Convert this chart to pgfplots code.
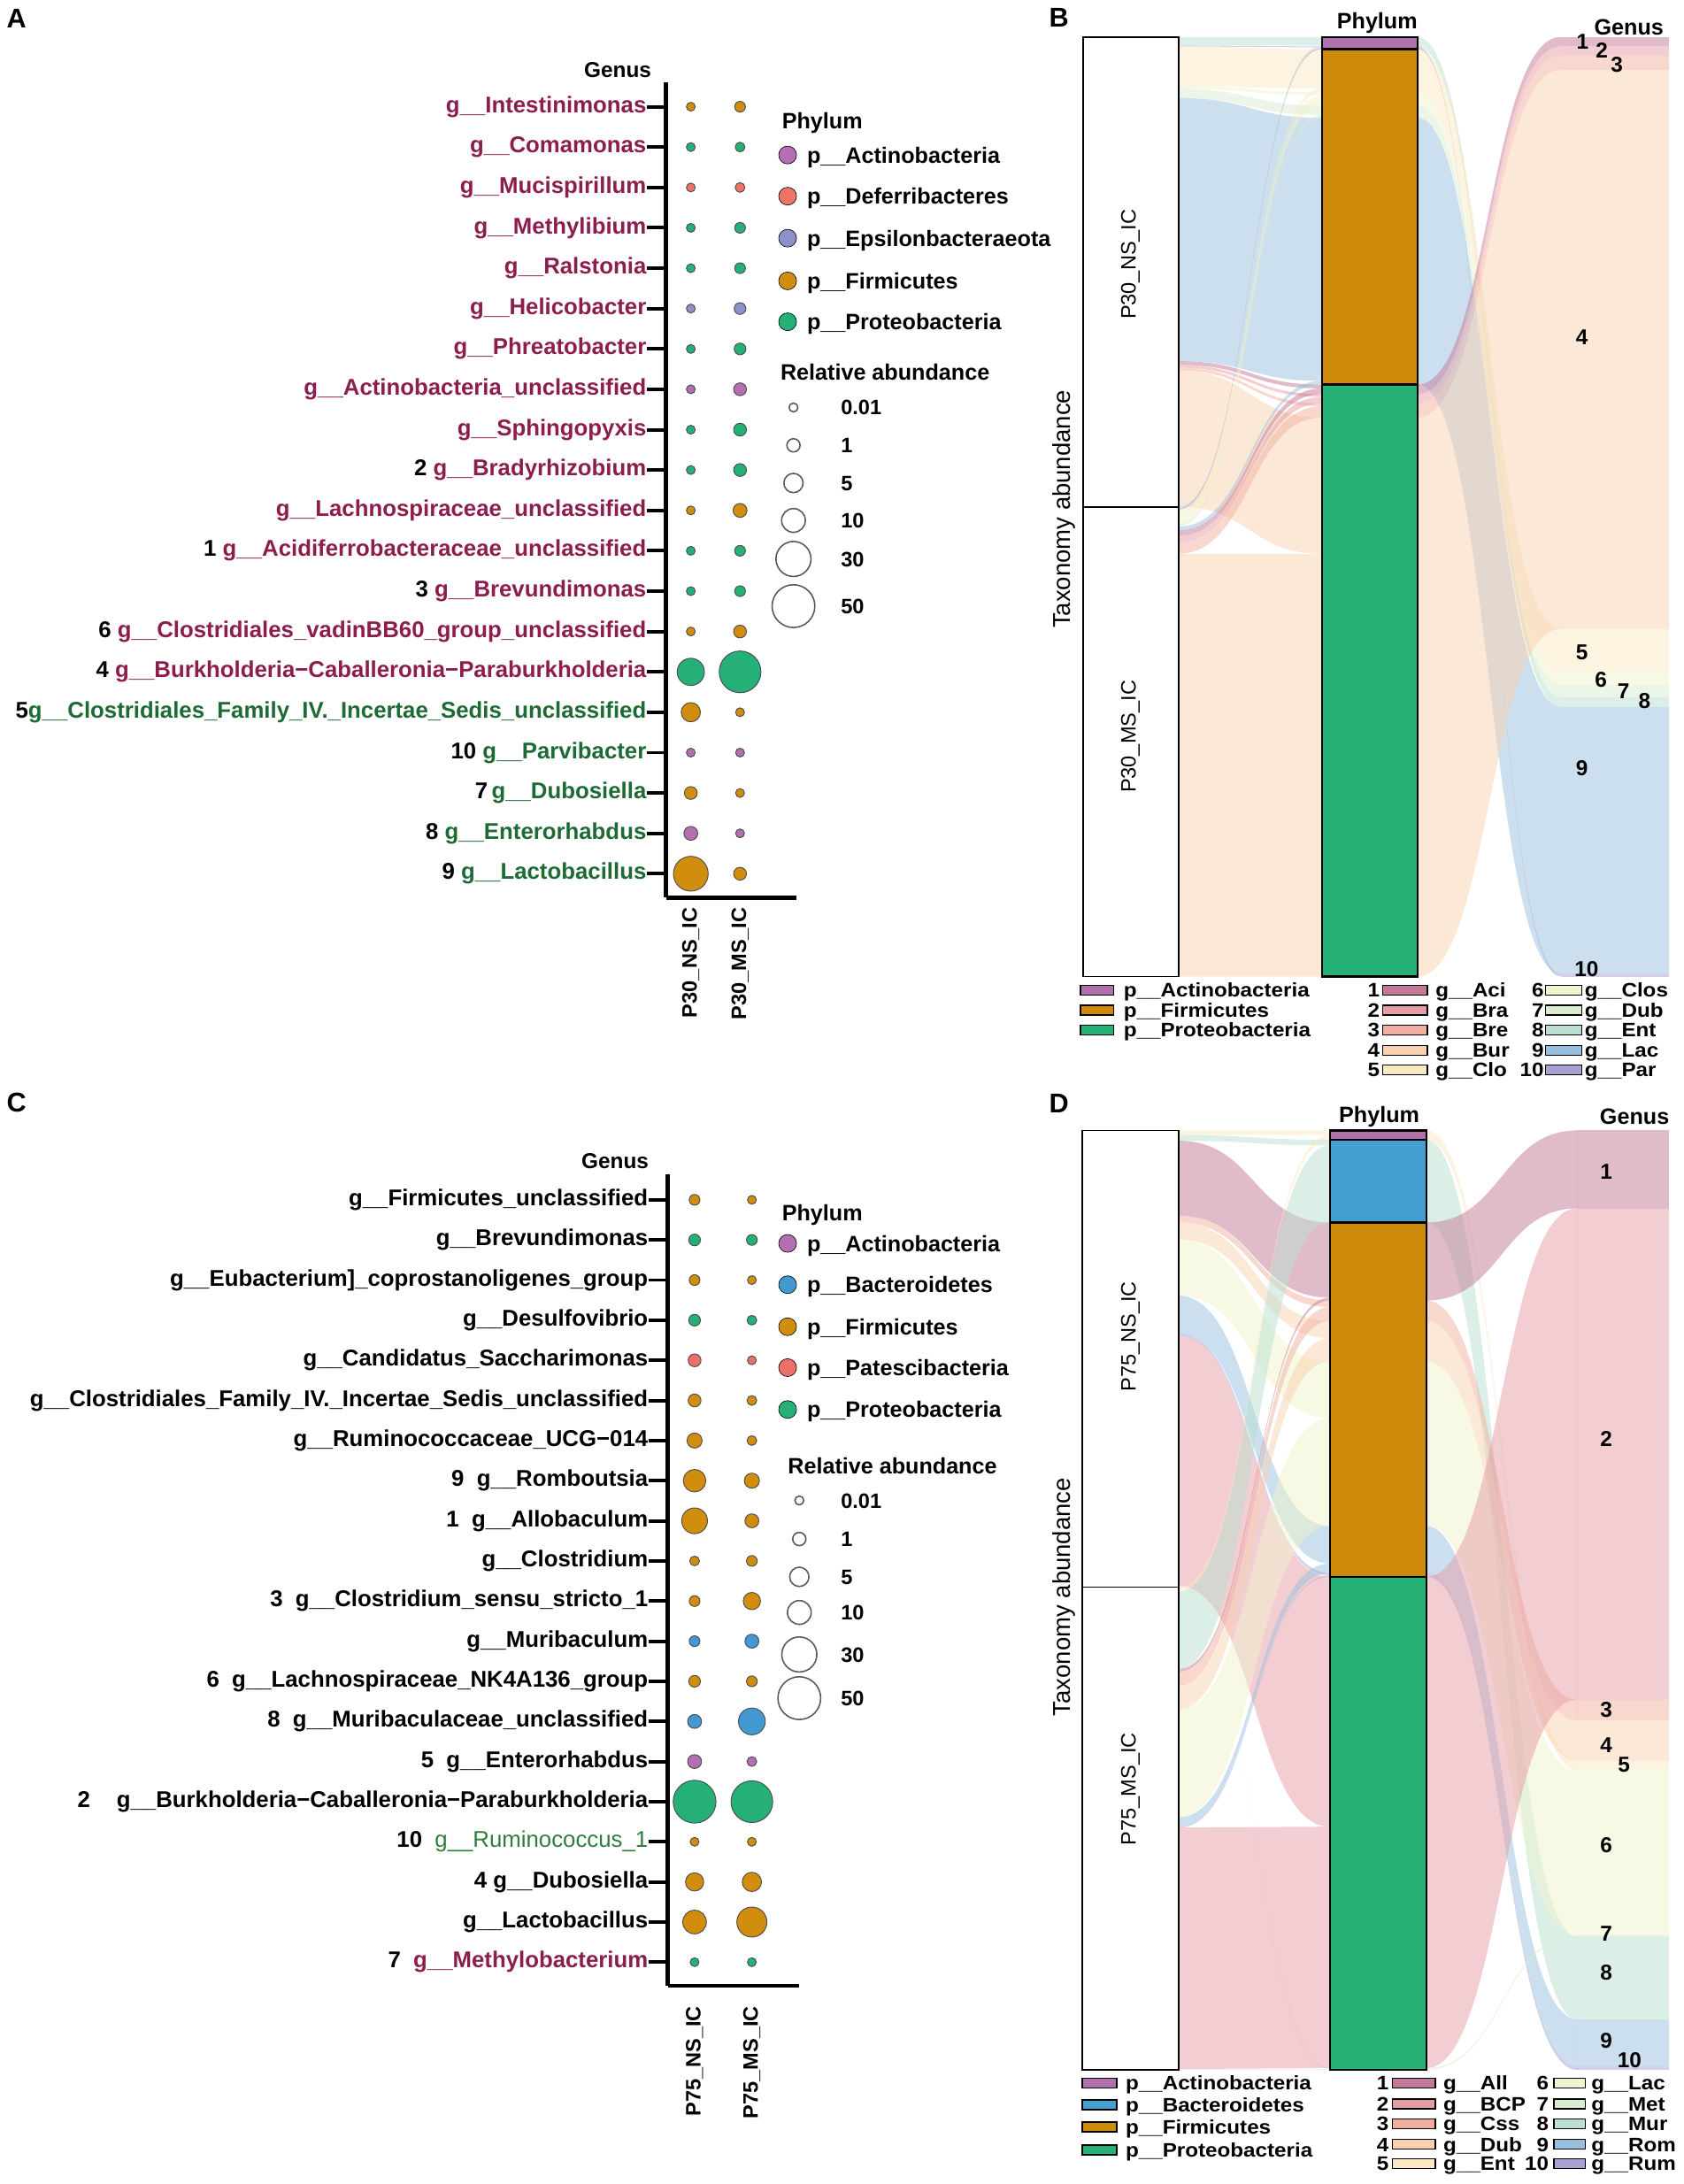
\documentclass[border=0pt]{standalone}
\usepackage{fontspec}
\setmainfont{Liberation Sans}
\newfontfamily\legfont[FakeStretch=1.1]{Liberation Sans}
\usepackage{pgfplots}
\usepackage{pgfplotstable}
\pgfplotsset{compat=1.18}
\newcommand\fs[1]{\fontsize{#1}{#1}\selectfont}

% phylum colours (bubbles)
\definecolor{cAct}{HTML}{B46EB2}
\definecolor{cDef}{HTML}{EE7468}
\definecolor{cEps}{HTML}{8D90CC}
\definecolor{cFir}{HTML}{D18E0E}
\definecolor{cPro}{HTML}{25B078}
\definecolor{cBac}{HTML}{4299D2}
\definecolor{cPat}{HTML}{EE7169}
% phylum strata
\definecolor{sAct}{HTML}{B070AE}
\definecolor{sFir}{HTML}{CE8A0B}
\definecolor{sPro}{HTML}{26B176}
\definecolor{sBac}{HTML}{449FD0}
% genus palette
\definecolor{g1}{HTML}{C27A98}
\definecolor{g2}{HTML}{E59DA5}
\definecolor{g3}{HTML}{F1B09F}
\definecolor{g4}{HTML}{F8D1B0}
\definecolor{g5}{HTML}{FAE8C2}
\definecolor{g6}{HTML}{F1F3CC}
\definecolor{g7}{HTML}{D9ECCF}
\definecolor{g8}{HTML}{B9E0CF}
\definecolor{g9}{HTML}{98C0DE}
\definecolor{g10}{HTML}{A7A1D1}
\definecolor{mar}{HTML}{8C1D4D}
\definecolor{agr}{HTML}{1D6A34}
\definecolor{cgr}{HTML}{2F7D3B}

\pgfplotsset{
  bubble/.style={scatter, only marks, mark=*, point meta=\thisrow{v},
    scatter/use mapped color={draw=black!70, fill=#1},
    visualization depends on={3+1.75*sqrt(\thisrow{v}) \as \rad},
    scatter/@pre marker code/.append style={/tikz/mark size=\rad},
    mark options={line width=0.6pt}},
  sizekey/.style={scatter, only marks, mark=*, point meta=\thisrow{v},
    scatter/use mapped color={draw=black!65, fill=white},
    visualization depends on={3+1.75*sqrt(\thisrow{v}) \as \rad},
    scatter/@pre marker code/.append style={/tikz/mark size=\rad},
    mark options={line width=1pt}},
  bubbleaxis/.style={scale only axis, clip=false,
    axis x line*=bottom, axis y line*=left,
    axis line style={line width=3pt, -},
    xtick=\empty,
    ytick={1,...,20},
    yticklabel style={font=\bfseries\fs{16.4}, anchor=east, inner sep=0pt},
    tick align=outside, major tick length=14pt, tick style={line width=2.5pt, black}},
  alluvaxis/.style={scale only axis, hide axis, clip=false, ymin=0, ymax=100, y dir=reverse},
}

% flows: s = left stratum, la/lb = band at left end, ra/rb = band at right end (% of total)
\pgfplotstableread{
s la lb ra rb c
1 0 0.9 0 0.9 g8
1 0.9 1.0 1.0 1.1 g10
1 1.0 5.2 1.3 5.5 g5
1 5.2 5.5 5.9 6.2 g6
1 5.5 6.5 7.3 8.3 g7
1 6.5 34.5 8.6 36.6 g9
1 34.5 34.9 37.0 37.4 g1
1 34.9 35.2 38.0 38.3 g2
1 35.2 35.5 39.0 39.3 g3
1 35.5 50.0 40.5 55.0 g4
1 50.0 50.1 0.9 1.0 g8
1 50.1 50.3 1.1 1.3 g10
1 50.3 50.7 5.5 5.9 g5
1 50.7 51.8 6.2 7.3 g6
1 51.8 52.1 8.3 8.6 g7
1 52.1 52.5 36.6 37.0 g9
1 52.5 53.1 37.4 38.0 g1
1 53.1 53.8 38.3 39.0 g2
1 53.8 55.0 39.3 40.5 g3
1 55.0 100 55.0 100 g4
2 0 1.0 70.3 71.3 g8
2 1.0 1.3 99.7 100 g10
2 1.3 5.9 63.0 67.6 g5
2 5.9 7.3 67.6 69.0 g6
2 7.3 8.6 69.0 70.3 g7
2 8.6 37.0 71.3 99.7 g9
2 37.0 38.0 0 1.0 g1
2 38.0 39.0 1.0 2.0 g2
2 39.0 40.5 2.0 3.5 g3
2 40.5 100 3.5 63.0 g4
}\flowB

\pgfplotstableread{
xa xb a b c d w o
0.8 1.2 0 50 white black 1.1 1
0.8 1.2 50 100 white black 1.1 1
1.8 2.2 0 1.3 sAct black 1.5 1
1.8 2.2 1.3 37.0 sFir black 1.5 1
1.8 2.2 37.0 100 sPro black 1.5 1
2.8 3.254 0 1.0 g1 none 0 0.5
2.8 3.254 1.0 2.0 g2 none 0 0.5
2.8 3.254 2.0 3.5 g3 none 0 0.5
2.8 3.254 3.5 63.0 g4 none 0 0.5
2.8 3.254 63.0 67.6 g5 none 0 0.5
2.8 3.254 67.6 69.0 g6 none 0 0.5
2.8 3.254 69.0 70.3 g7 none 0 0.5
2.8 3.254 70.3 71.3 g8 none 0 0.5
2.8 3.254 71.3 99.7 g9 none 0 0.5
2.8 3.254 99.7 100 g10 none 0 0.5
}\strataB

\pgfplotstableread{
s la lb ra rb c
1 0 0.5 0 0.5 g5
1 0.5 1.1 1.0 1.6 g8
1 1.1 9.1 9.8 17.8 g1
1 9.1 9.8 18.1 18.8 g3
1 9.8 11.6 20.3 22.1 g4
1 11.6 17.6 24.6 30.6 g6
1 17.6 21.6 42.1 46.1 g9
1 21.6 21.9 47.1 47.4 g10
1 21.9 48.5 47.5 74.1 g2
1 48.5 48.6 99.8 99.9 g7
1 48.6 49.1 0.5 1.0 g5
1 49.1 57.3 1.6 9.8 g8
1 57.3 57.6 17.8 18.1 g1
1 57.6 59.1 18.8 20.3 g3
1 59.1 61.6 22.1 24.6 g4
1 61.6 73.1 30.6 42.1 g6
1 73.1 74.1 46.1 47.1 g9
1 74.1 74.2 47.4 47.5 g10
1 74.2 99.9 74.1 99.8 g2
1 99.9 100 99.9 100 g7
2 0 1.0 67.1 68.1 g5
2 1.0 9.8 85.8 94.6 g8
2 9.8 18.1 0 8.3 g1
2 18.1 20.3 60.6 62.8 g3
2 20.3 24.6 62.8 67.1 g4
2 24.6 42.1 68.1 85.6 g6
2 42.1 47.1 94.6 99.6 g9
2 47.1 47.5 99.6 100 g10
2 47.5 99.8 8.3 60.6 g2
2 99.8 100 85.6 85.8 g7
}\flowD

\pgfplotstableread{
xa xb a b c d w o
0.805 1.195 0 48.6 white black 1.1 1
0.805 1.195 48.6 100 white black 1.1 1
1.805 2.195 0 1.0 sAct black 1.5 1
1.805 2.195 1.0 9.8 sBac black 1.5 1
1.805 2.195 9.8 47.5 sFir black 1.5 1
1.805 2.195 47.5 100 sPro black 1.5 1
2.805 3.177 0 8.3 g1 none 0 0.5
2.805 3.177 8.3 60.6 g2 none 0 0.5
2.805 3.177 60.6 62.8 g3 none 0 0.5
2.805 3.177 62.8 67.1 g4 none 0 0.5
2.805 3.177 67.1 68.1 g5 none 0 0.5
2.805 3.177 68.1 85.6 g6 none 0 0.5
2.805 3.177 85.6 85.8 g7 none 0 0.5
2.805 3.177 85.8 94.6 g8 none 0 0.5
2.805 3.177 94.6 99.6 g9 none 0 0.5
2.805 3.177 99.6 100 g10 none 0 0.5
}\strataD

% draw alluvial flows of a table, #2 = half width of a stratum
\newcommand\flows[2]{%
  \pgfplotstablegetrowsof{#1}%
  \pgfmathtruncatemacro\nlast{\pgfplotsretval-1}%
  \pgfplotsforeachungrouped \i in {0,...,\nlast}{%
    \pgfplotstablegetelem{\i}{s}\of#1\let\vs\pgfplotsretval
    \pgfplotstablegetelem{\i}{la}\of#1\let\vla\pgfplotsretval
    \pgfplotstablegetelem{\i}{lb}\of#1\let\vlb\pgfplotsretval
    \pgfplotstablegetelem{\i}{ra}\of#1\let\vra\pgfplotsretval
    \pgfplotstablegetelem{\i}{rb}\of#1\let\vrb\pgfplotsretval
    \pgfplotstablegetelem{\i}{c}\of#1\let\vc\pgfplotsretval
    \pgfmathsetmacro\xa{\vs+#2}%
    \pgfmathsetmacro\xb{\vs+1-#2}%
    \pgfmathsetmacro\xm{\vs+0.5}%
    \edef\temp{\noexpand\fill[\vc, fill opacity=0.5] (axis cs:\xa,\vla) .. controls (axis cs:\xm,\vla) and (axis cs:\xm,\vra) .. (axis cs:\xb,\vra) -- (axis cs:\xb,\vrb) .. controls (axis cs:\xm,\vrb) and (axis cs:\xm,\vlb) .. (axis cs:\xa,\vlb) -- cycle;}%
    \temp
  }}
\newcommand\strata[1]{%
  \pgfplotstablegetrowsof{#1}%
  \pgfmathtruncatemacro\nlast{\pgfplotsretval-1}%
  \pgfplotsforeachungrouped \i in {0,...,\nlast}{%
    \pgfplotstablegetelem{\i}{xa}\of#1\let\vxa\pgfplotsretval
    \pgfplotstablegetelem{\i}{xb}\of#1\let\vxb\pgfplotsretval
    \pgfplotstablegetelem{\i}{a}\of#1\let\va\pgfplotsretval
    \pgfplotstablegetelem{\i}{b}\of#1\let\vb\pgfplotsretval
    \pgfplotstablegetelem{\i}{c}\of#1\let\vc\pgfplotsretval
    \pgfplotstablegetelem{\i}{d}\of#1\let\vd\pgfplotsretval
    \pgfplotstablegetelem{\i}{w}\of#1\let\vw\pgfplotsretval
    \pgfplotstablegetelem{\i}{o}\of#1\let\vo\pgfplotsretval
    \edef\temp{\noexpand\path[fill=\vc, fill opacity=\vo, draw=\vd, line width=\vw pt] (axis cs:\vxa,\va) rectangle (axis cs:\vxb,\vb);}%
    \temp
  }}
\newcommand\key[4]{\draw[fill=#4, line width=0.9pt] (axis cs:#1,#3-3.5) rectangle (axis cs:#2,#3+3.5);}
\tikzset{
  lg/.style={anchor=base west, inner sep=0pt, font=\bfseries\fs{16}},
  lgs/.style={anchor=base west, inner sep=0pt, font=\bfseries\fs{15}},
  lw/.style={anchor=base west, inner sep=0pt, font=\legfont\bfseries\fs{14}},
  le/.style={anchor=base east, inner sep=0pt, font=\legfont\bfseries\fs{14}},
  gl/.style={font=\bfseries\fs{15.5}, inner sep=0pt},
  xl/.style={rotate=90, anchor=east, inner sep=0pt, font=\bfseries\fs{15}},
}

\begin{document}
\begin{tikzpicture}
\useasboundingbox (0,0) rectangle (1210pt,-1570pt);

% ---------------- A: bubbles P30
\begin{axis}[bubbleaxis, at={(478.8pt,-645.2pt)}, anchor=south west,
  width=93.7pt, height=586.1pt,
  xmin=0.497, xmax=3.144, ymin=0.41, ymax=20.607,
  yticklabels={
    {9 \textcolor{agr}{g\_\_Lactobacillus}},
    {8 \textcolor{agr}{g\_\_Enterorhabdus}},
    {7\,\textcolor{agr}{g\_\_Dubosiella}},
    {10 \textcolor{agr}{g\_\_Parvibacter}},
    {5\textcolor{agr}{g\_\_Clostridiales\_Family\_IV.\_Incertae\_Sedis\_unclassified}},
    {\raisebox{4pt}{4 \textcolor{mar}{g\_\_Burkholderia−Caballeronia−Paraburkholderia}}\hspace{10.7pt}},
    {6 \textcolor{mar}{g\_\_Clostridiales\_vadinBB60\_group\_unclassified}},
    {3 \textcolor{mar}{g\_\_Brevundimonas}},
    {1 \textcolor{mar}{g\_\_Acidiferrobacteraceae\_unclassified}},
    {\textcolor{mar}{g\_\_Lachnospiraceae\_unclassified}},
    {2 \textcolor{mar}{g\_\_Bradyrhizobium}},
    {\textcolor{mar}{g\_\_Sphingopyxis}},
    {\textcolor{mar}{g\_\_Actinobacteria\_unclassified}},
    {\textcolor{mar}{g\_\_Phreatobacter}},
    {\textcolor{mar}{g\_\_Helicobacter}},
    {\textcolor{mar}{g\_\_Ralstonia}},
    {\textcolor{mar}{g\_\_Methylibium}},
    {\textcolor{mar}{g\_\_Mucispirillum}},
    {\textcolor{mar}{g\_\_Comamonas}},
    {\textcolor{mar}{g\_\_Intestinimonas}}},
]
\addplot[bubble=cFir] table {
x y v
1 1 29.5
2 1 0.84
1 3 0.84
2 3 0.01
1 5 5.0
2 5 0.01
1 7 0.01
2 7 0.84
1 10 0.01
2 10 1.3
1 20 0.01
2 20 0.24
};
\addplot[bubble=cAct] table {
x y v
1 2 1.3
2 2 0.01
1 4 0.01
2 4 0.01
1 13 0.01
2 13 0.84
};
\addplot[bubble=cPro] table {
x y v
1 6 15
2 6 47
1 8 0.01
2 8 0.24
1 9 0.01
2 9 0.24
1 11 0.01
2 11 0.84
1 12 0.01
2 12 0.84
1 14 0.01
2 14 0.47
1 16 0.01
2 16 0.24
1 17 0.01
2 17 0.24
1 19 0.01
2 19 0.08
};
\addplot[bubble=cEps] table {
x y v
1 15 0.01
2 15 0.47
};
\addplot[bubble=cDef] table {
x y v
1 18 0.01
2 18 0.08
};
\node[xl] at (axis cs:1,0.17) {P30\_NS\_IC};
\node[xl] at (axis cs:2,0.17) {P30\_MS\_IC};
\end{axis}

% ---------------- C: bubbles P75
\begin{axis}[bubbleaxis, at={(480pt,-1427.5pt)}, anchor=south west,
  width=94.4pt, height=583.4pt,
  xmin=0.531, xmax=2.823, ymin=0.411, ymax=20.638,
  yticklabels={
    {7~~\textcolor{mar}{g\_\_Methylobacterium}},
    {g\_\_Lactobacillus},
    {4 g\_\_Dubosiella},
    {10~~\textcolor{cgr}{\mdseries g\_\_Ruminococcus\_1}},
    {2\hspace{19pt}g\_\_Burkholderia−Caballeronia−Paraburkholderia},
    {5~~g\_\_Enterorhabdus},
    {8~~g\_\_Muribaculaceae\_unclassified},
    {6~~g\_\_Lachnospiraceae\_NK4A136\_group},
    {g\_\_Muribaculum},
    {3~~g\_\_Clostridium\_sensu\_stricto\_1},
    {g\_\_Clostridium},
    {1~~g\_\_Allobaculum},
    {9~~g\_\_Romboutsia},
    {g\_\_Ruminococcaceae\_UCG−014},
    {g\_\_Clostridiales\_Family\_IV.\_Incertae\_Sedis\_unclassified},
    {g\_\_Candidatus\_Saccharimonas},
    {g\_\_Desulfovibrio},
    {g\_\_Eubacterium{]}\_coprostanoligenes\_group},
    {g\_\_Brevundimonas},
    {g\_\_Firmicutes\_unclassified}},
]
\addplot[bubble=cFir] table {
x y v
1 2 9.9
2 2 19.9
1 3 4.1
2 3 5.0
1 4 0.01
2 4 0.01
1 8 0.47
2 8 0.24
1 10 0.24
2 10 3.3
1 11 0.08
2 11 0.24
1 12 12.8
2 12 1.3
1 13 8.5
2 13 1.9
1 14 1.9
2 14 0.08
1 15 0.84
2 15 0.08
1 18 0.24
2 18 0.01
1 20 0.24
2 20 0.01
};
\addplot[bubble=cPro] table {
x y v
1 1 0.01
2 1 0.01
1 5 50
2 5 47
1 17 0.47
2 17 0.08
1 19 0.47
2 19 0.24
};
\addplot[bubble=cBac] table {
x y v
1 7 1.3
2 7 14.3
1 9 0.24
2 9 1.3
};
\addplot[bubble=cAct] table {
x y v
1 6 1.3
2 6 0.08
};
\addplot[bubble=cPat] table {
x y v
1 16 0.84
2 16 0.01
};
\node[xl] at (axis cs:1,-0.09) {P75\_NS\_IC};
\node[xl] at (axis cs:2,-0.09) {P75\_MS\_IC};
\end{axis}

% ---------------- B: alluvial P30
\begin{axis}[alluvaxis, at={(778.4pt,-702pt)}, anchor=south west,
  width=421.6pt, height=675.4pt, xmin=0.8, xmax=3.254]
\flows{\flowB}{0.2}
\strata{\strataB}
\node[gl] at (axis cs:2.891,0.53) {1};
\node[gl] at (axis cs:2.972,1.42) {2};
\node[gl] at (axis cs:3.035,2.92) {3};
\node[gl] at (axis cs:2.888,31.95) {4};
\node[gl] at (axis cs:2.888,65.5) {5};
\node[gl] at (axis cs:2.968,68.4) {6};
\node[gl] at (axis cs:3.062,69.6) {7};
\node[gl] at (axis cs:3.150,70.7) {8};
\node[gl] at (axis cs:2.888,77.8) {9};
\node[gl] at (axis cs:2.908,99.2) {10};
\end{axis}

% ---------------- D: alluvial P75
\begin{axis}[alluvaxis, at={(778pt,-1488pt)}, anchor=south west,
  width=422pt, height=675.4pt, xmin=0.805, xmax=3.177]
\flows{\flowD}{0.195}
\strata{\strataD}
\node[gl] at (axis cs:2.922,4.44) {1};
\node[gl] at (axis cs:2.922,32.85) {2};
\node[gl] at (axis cs:2.922,61.7) {3};
\node[gl] at (axis cs:2.922,65.4) {4};
\node[gl] at (axis cs:2.994,67.5) {5};
\node[gl] at (axis cs:2.922,76.06) {6};
\node[gl] at (axis cs:2.922,85.5) {7};
\node[gl] at (axis cs:2.922,89.6) {8};
\node[gl] at (axis cs:2.922,96.9) {9};
\node[gl] at (axis cs:3.016,99.0) {10};
\end{axis}

% ---------------- titles, labels and legends (page coordinates)
\begin{axis}[at={(0pt,0pt)}, anchor=north west, scale only axis, hide axis, clip=false,
  width=1210pt, height=1570pt, xmin=0, xmax=1210, ymin=0, ymax=1570, y dir=reverse]
\node[anchor=north west, inner sep=0pt, font=\bfseries\fs{19.5}] at (axis cs:4.6,6.3) {A};
\node[anchor=north west, inner sep=0pt, font=\bfseries\fs{19.5}] at (axis cs:754,5.5) {B};
\node[anchor=north west, inner sep=0pt, font=\bfseries\fs{19.5}] at (axis cs:4.6,785.5) {C};
\node[anchor=north west, inner sep=0pt, font=\bfseries\fs{19.5}] at (axis cs:754,786) {D};
\node[anchor=base east, inner sep=0pt, font=\bfseries\fs{15.5}] at (axis cs:468.4,55.8) {Genus};
\node[anchor=base east, inner sep=0pt, font=\bfseries\fs{15.5}] at (axis cs:466.5,840.3) {Genus};

% A legends
\node[lg] at (axis cs:562,92.5) {Phylum};
\addplot[only marks, mark=*, mark size=6.4, mark options={draw=none, fill=cAct}] coordinates {(566.2,111.4)};
\addplot[only marks, mark=*, mark size=6.4, mark options={draw=none, fill=cDef}] coordinates {(566.2,141)};
\addplot[only marks, mark=*, mark size=6.4, mark options={draw=none, fill=cEps}] coordinates {(566.2,171.2)};
\addplot[only marks, mark=*, mark size=6.4, mark options={draw=none, fill=cFir}] coordinates {(566.2,201.9)};
\addplot[only marks, mark=*, mark size=6.4, mark options={draw=none, fill=cPro}] coordinates {(566.2,231.3)};
\node[lg] at (axis cs:580,117.1) {p\_\_Actinobacteria};
\node[lg] at (axis cs:580,146.7) {p\_\_Deferribacteres};
\node[lg] at (axis cs:580,176.9) {p\_\_Epsilonbacteraeota};
\node[lg] at (axis cs:580,207.6) {p\_\_Firmicutes};
\node[lg] at (axis cs:580,237.0) {p\_\_Proteobacteria};
\node[lg] at (axis cs:560.9,273.5) {Relative abundance};
\addplot[sizekey] table {
x y v
570.4 292.9 0.01
570.4 320.1 1
570.4 347.2 5
570.4 374.1 10
570.4 401.8 30
570.4 435.7 50
};
\node[lgs] at (axis cs:604.3,298.3) {0.01};
\node[lgs] at (axis cs:604.3,325.5) {1};
\node[lgs] at (axis cs:604.3,352.6) {5};
\node[lgs] at (axis cs:604.3,379.5) {10};
\node[lgs] at (axis cs:604.3,407.2) {30};
\node[lgs] at (axis cs:604.3,441.1) {50};

% C legends
\node[lg] at (axis cs:562,877.5) {Phylum};
\addplot[only marks, mark=*, mark size=6.4, mark options={draw=none, fill=cAct}] coordinates {(566.2,893.8)};
\addplot[only marks, mark=*, mark size=6.4, mark options={draw=none, fill=cBac}] coordinates {(566.2,923.5)};
\addplot[only marks, mark=*, mark size=6.4, mark options={draw=none, fill=cFir}] coordinates {(566.2,953.7)};
\addplot[only marks, mark=*, mark size=6.4, mark options={draw=none, fill=cPat}] coordinates {(566.2,983.1)};
\addplot[only marks, mark=*, mark size=6.4, mark options={draw=none, fill=cPro}] coordinates {(566.2,1013.2)};
\node[lg] at (axis cs:580,899.5) {p\_\_Actinobacteria};
\node[lg] at (axis cs:580,929.2) {p\_\_Bacteroidetes};
\node[lg] at (axis cs:580,959.4) {p\_\_Firmicutes};
\node[lg] at (axis cs:580,988.8) {p\_\_Patescibacteria};
\node[lg] at (axis cs:580,1018.9) {p\_\_Proteobacteria};
\node[lg] at (axis cs:566.2,1059.3) {Relative abundance};
\addplot[sizekey] table {
x y v
574.6 1078.6 0.01
574.6 1106.3 1
574.6 1133.5 5
574.6 1159.1 10
574.6 1189.3 30
574.6 1220.7 50
};
\node[lgs] at (axis cs:604.3,1084) {0.01};
\node[lgs] at (axis cs:604.3,1111.7) {1};
\node[lgs] at (axis cs:604.3,1138.9) {5};
\node[lgs] at (axis cs:604.3,1164.5) {10};
\node[lgs] at (axis cs:604.3,1194.7) {30};
\node[lgs] at (axis cs:604.3,1226.1) {50};

% B texts
\node[rotate=90, font=\fs{17.5}] at (axis cs:765,366) {Taxonomy abundance};
\node[rotate=90, font=\fs{15}] at (axis cs:812.7,190) {P30\_NS\_IC};
\node[rotate=90, font=\fs{15}] at (axis cs:812.7,529.5) {P30\_MS\_IC};
\node[font=\bfseries\fs{16}] at (axis cs:990,16.5) {Phylum};
\node[font=\bfseries\fs{16}] at (axis cs:1171,19.5) {Genus};
\key{776.7}{800.5}{711.8}{sAct}
\key{776.7}{800.5}{726.2}{sFir}
\key{776.7}{800.5}{740.5}{sPro}
\node[lw] at (axis cs:807.6,716.8) {p\_\_Actinobacteria};
\node[lw] at (axis cs:807.6,731.2) {p\_\_Firmicutes};
\node[lw] at (axis cs:807.6,745.5) {p\_\_Proteobacteria};
\key{993.8}{1026}{711.8}{g1}
\key{993.8}{1026}{726.2}{g2}
\key{993.8}{1026}{740.5}{g3}
\key{993.8}{1026}{754.9}{g4}
\key{993.8}{1026}{769.1}{g5}
\key{1111}{1137}{711.8}{g6}
\key{1111}{1137}{726.2}{g7}
\key{1111}{1137}{740.5}{g8}
\key{1111}{1137}{754.9}{g9}
\key{1111}{1137}{769.1}{g10}
\node[le] at (axis cs:992,716.8) {1};
\node[le] at (axis cs:992,731.2) {2};
\node[le] at (axis cs:992,745.5) {3};
\node[le] at (axis cs:992,759.9) {4};
\node[le] at (axis cs:992,774.1) {5};
\node[le] at (axis cs:1110,716.8) {6};
\node[le] at (axis cs:1110,731.2) {7};
\node[le] at (axis cs:1110,745.5) {8};
\node[le] at (axis cs:1110,759.9) {9};
\node[le] at (axis cs:1110,774.1) {10};
\node[lw] at (axis cs:1031.8,716.8) {g\_\_Aci};
\node[lw] at (axis cs:1031.8,731.2) {g\_\_Bra};
\node[lw] at (axis cs:1031.8,745.5) {g\_\_Bre};
\node[lw] at (axis cs:1031.8,759.9) {g\_\_Bur};
\node[lw] at (axis cs:1031.8,774.1) {g\_\_Clo};
\node[lw] at (axis cs:1139,716.8) {g\_\_Clos};
\node[lw] at (axis cs:1139,731.2) {g\_\_Dub};
\node[lw] at (axis cs:1139,745.5) {g\_\_Ent};
\node[lw] at (axis cs:1139,759.9) {g\_\_Lac};
\node[lw] at (axis cs:1139,774.1) {g\_\_Par};

% D texts
\node[rotate=90, font=\fs{17.5}] at (axis cs:765,1148) {Taxonomy abundance};
\node[rotate=90, font=\fs{15}] at (axis cs:812.7,960.7) {P75\_NS\_IC};
\node[rotate=90, font=\fs{15}] at (axis cs:812.7,1286) {P75\_MS\_IC};
\node[font=\bfseries\fs{16}] at (axis cs:991.5,802.5) {Phylum};
\node[font=\bfseries\fs{16}] at (axis cs:1175,802.5) {Genus};
\key{778.1}{802.8}{1497.5}{sAct}
\key{778.1}{802.8}{1513}{sBac}
\key{778.1}{802.8}{1529}{sFir}
\key{778.1}{802.8}{1545.4}{sPro}
\node[lw] at (axis cs:809,1502.5) {p\_\_Actinobacteria};
\node[lw] at (axis cs:809,1518) {p\_\_Bacteroidetes};
\node[lw] at (axis cs:809,1534) {p\_\_Firmicutes};
\node[lw] at (axis cs:809,1550.4) {p\_\_Proteobacteria};
\key{1001}{1031.8}{1497.5}{g1}
\key{1001}{1031.8}{1512.3}{g2}
\key{1001}{1031.8}{1526.7}{g3}
\key{1001}{1031.8}{1541.5}{g4}
\key{1001}{1031.8}{1555.3}{g5}
\key{1117}{1139.6}{1497.5}{g6}
\key{1117}{1139.6}{1512.3}{g7}
\key{1117}{1139.6}{1526.7}{g8}
\key{1117}{1139.6}{1541.5}{g9}
\key{1117}{1139.6}{1555.3}{g10}
\node[le] at (axis cs:998.5,1502.5) {1};
\node[le] at (axis cs:998.5,1517.3) {2};
\node[le] at (axis cs:998.5,1531.7) {3};
\node[le] at (axis cs:998.5,1546.5) {4};
\node[le] at (axis cs:998.5,1560.3) {5};
\node[le] at (axis cs:1113.5,1502.5) {6};
\node[le] at (axis cs:1113.5,1517.3) {7};
\node[le] at (axis cs:1113.5,1531.7) {8};
\node[le] at (axis cs:1113.5,1546.5) {9};
\node[le] at (axis cs:1113.5,1560.3) {10};
\node[lw] at (axis cs:1037.4,1502.5) {g\_\_All};
\node[lw] at (axis cs:1037.4,1517.3) {g\_\_BCP};
\node[lw] at (axis cs:1037.4,1531.7) {g\_\_Css};
\node[lw] at (axis cs:1037.4,1546.5) {g\_\_Dub};
\node[lw] at (axis cs:1037.4,1560.3) {g\_\_Ent};
\node[lw] at (axis cs:1143.8,1502.5) {g\_\_Lac};
\node[lw] at (axis cs:1143.8,1517.3) {g\_\_Met};
\node[lw] at (axis cs:1143.8,1531.7) {g\_\_Mur};
\node[lw] at (axis cs:1143.8,1546.5) {g\_\_Rom};
\node[lw] at (axis cs:1143.8,1560.3) {g\_\_Rum};
\end{axis}
\end{tikzpicture}
\end{document}
